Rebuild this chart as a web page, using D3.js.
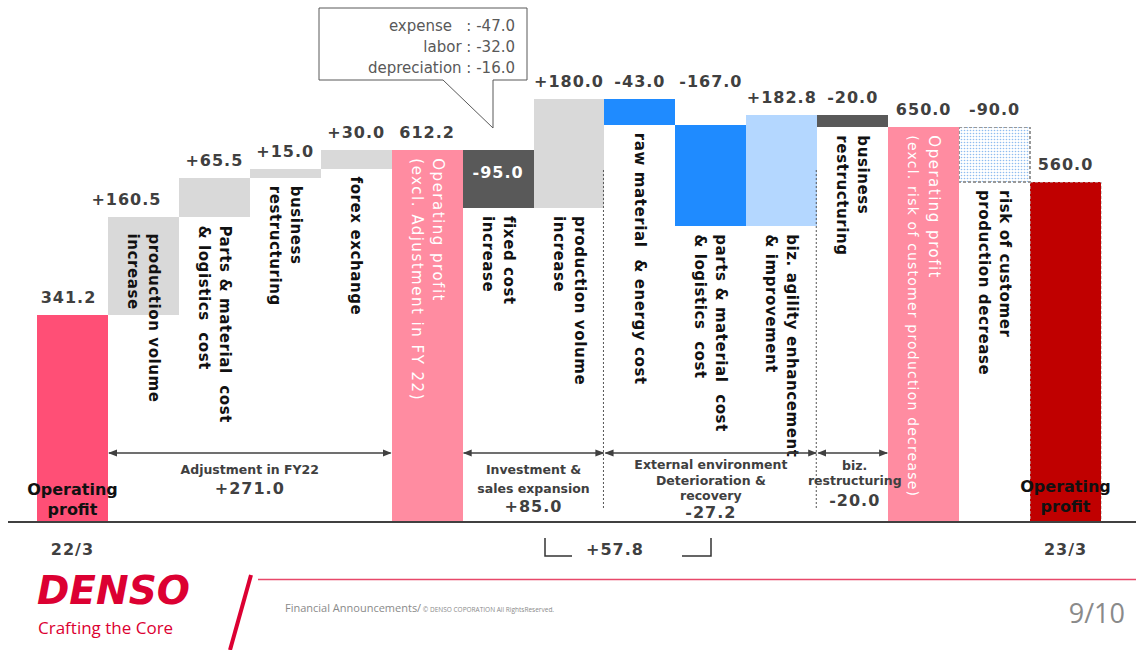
<!DOCTYPE html>
<html>
<head>
<meta charset="utf-8">
<script src="https://cdn.jsdelivr.net/npm/d3@7"></script>
<style>
  body { margin: 0; background: #fff; }
  svg { display: block; font-family: "DejaVu Sans", Verdana, sans-serif; }
  .pre { white-space: pre; }
</style>
</head>
<body>
<div id="graph"></div>
<script>
// values (bn yen)
var values = [341.2, 160.5, 65.5, 15.0, 30.0, 612.2, -95.0, 180.0, -43.0, -167.0, 182.8, -20.0, 650.0, -90.0, 560.0];
var kinds = ["open", "gain", "gain", "gain", "gain", "subtotal", "fixed", "gain", "external", "external", "agility", "fixed", "subtotal", "risk", "close"];
var valueLabels = ["341.2", "+160.5", "+65.5", "+15.0", "+30.0", "612.2", "-95.0", "+180.0", "-43.0", "-167.0", "+182.8", "-20.0", "650.0", "-90.0", "560.0"];
var barLabels = [
  [],
  ["production volume", "increase"],
  ["Parts & material  cost", "& logistics  cost"],
  ["business", "restructuring"],
  ["forex exchange"],
  ["Operating profit", "(excl. Adjustment in FY 22)"],
  ["fixed cost", "increase"],
  ["production volume", "increase"],
  ["raw material  & energy cost"],
  ["parts & material  cost", "& logistics  cost"],
  ["biz. agility enhancement", "& improvement"],
  ["business", "restructuring"],
  ["Operating profit", "(excl. risk of customer production decrease)"],
  ["risk of customer", "production decrease"],
  []
];
var periods = ["22/3", "23/3"];

// groups under the bars
var groupNames = [["Adjustment in FY22"], ["Investment &", "sales expansion"], ["External environment", "Deterioration &", "recovery"], ["biz.", "restructuring"]];
var groupTotals = ["+271.0", "+85.0", "-27.2", "-20.0"];
var groupFrom = [1, 6, 8, 11];
var groupTo = [4, 7, 10, 11];
var combinedTotal = "+57.8";

var breakdownNames = ["expense   ", "labor ", "depreciation "];
var breakdownValues = ["-47.0", "-32.0", "-16.0"];

var colors = {
  open: "#ff4f76", gain: "#d9d9d9", subtotal: "#ff8ca1", fixed: "#595959",
  external: "#1f8bff", agility: "#b4d7ff", risk: "url(#dots)", close: "#c00000"
};

var width = 1136, height = 650;
var base = 522;

var svg = d3.select("#graph").append("svg")
  .attr("width", width).attr("height", height);

var defs = svg.append("defs");
var pat = defs.append("pattern").attr("id", "dots")
  .attr("width", 3).attr("height", 3).attr("patternUnits", "userSpaceOnUse");
pat.append("rect").attr("width", 3).attr("height", 3).attr("fill", "#fff");
pat.append("circle").attr("cx", 1.5).attr("cy", 1.5).attr("r", 0.8).attr("fill", "#8fbcf0");

defs.append("marker").attr("id", "arr")
  .attr("viewBox", "0 0 10 10").attr("refX", 9).attr("refY", 5)
  .attr("markerWidth", 9).attr("markerHeight", 9).attr("orient", "auto-start-reverse")
  .attr("markerUnits", "userSpaceOnUse")
  .append("path").attr("d", "M0,1 L10,5 L0,9 Z").attr("fill", "#404040");

var x = d3.scaleBand().domain(d3.range(values.length)).range([37, 1101]).padding(0);
var y = d3.scaleLinear().domain([0, 700]).range([base, 97]);
var bw = x.bandwidth();

// running totals
var run = 0;
var bars = values.map(function(v, i) {
  var k = kinds[i], lo, hi;
  if (k == "open" || k == "subtotal" || k == "close") {
    lo = 0; hi = v; run = v;
  } else {
    lo = Math.min(run, run + v); hi = Math.max(run, run + v); run = run + v;
  }
  return { i: i, kind: k, lo: lo, hi: hi };
});

// bars
svg.selectAll(".bar").data(bars).enter().append("rect")
  .attr("class", "bar")
  .attr("x", function(d) { return x(d.i); })
  .attr("width", bw)
  .attr("y", function(d) { return y(d.hi); })
  .attr("height", function(d) { return y(d.lo) - y(d.hi); })
  .attr("fill", function(d) { return colors[d.kind]; })
  .attr("stroke", function(d) { return d.kind == "risk" ? "#999" : (d.kind == "close" ? "#b0b0b0" : "none"); })
  .attr("stroke-dasharray", "3,2")
  .attr("stroke-width", function(d) { return d.kind == "risk" ? 1.2 : 0.6; })
  .attr("shape-rendering", "crispEdges");

// value labels
function labelY(d) {
  if (d.i == 8 || d.i == 9) return y(bars[7].hi) - 12;
  if (d.i == 6) return y(d.hi) + 28;
  return y(d.hi) - 12;
}
svg.selectAll(".val").data(bars).enter().append("text")
  .attr("class", "val")
  .attr("x", function(d) { return x(d.i) + bw / 2 + (d.i == 1 ? -17 : d.i == 0 ? -4 : 0); })
  .attr("y", labelY)
  .attr("text-anchor", "middle")
  .attr("font-size", 16).attr("font-weight", "bold").attr("letter-spacing", 1)
  .attr("fill", function(d) { return d.i == 6 ? "#fff" : "#404040"; })
  .text(function(d) { return valueLabels[d.i]; });

// vertical labels
bars.forEach(function(d) {
  var lines = barLabels[d.i];
  if (!lines.length) return;
  var cx = x(d.i) + bw / 2;
  var startY;
  if (d.kind == "subtotal") startY = y(d.hi) + 8;
  else if (d.i == 1) startY = y(d.hi) + 16;
  else startY = y(d.lo) + 8;
  var white = d.kind == "subtotal";
  lines.forEach(function(line, j) {
    var off = lines.length == 1 ? 0 : (j == 0 ? 10.5 : -10.5);
    var long = line.length > 30;
    svg.append("text")
      .attr("class", "pre")
      .attr("transform", "translate(" + (cx + off) + "," + startY + ") rotate(90)")
      .attr("dominant-baseline", "central")
      .attr("font-size", white ? (long ? 14 : 15) : 15)
      .attr("font-weight", white ? "normal" : "bold")
      .attr("letter-spacing", white ? (long ? 1.2 : 1.5) : 0.6)
      .attr("fill", white ? "#fff" : "#111")
      .text(line);
  });
});

// baseline
svg.append("line").attr("x1", 8).attr("x2", width).attr("y1", base).attr("y2", base)
  .attr("stroke", "#404040").attr("stroke-width", 2);

// dotted dividers
[groupFrom[2], groupFrom[3]].forEach(function(i) {
  svg.append("line").attr("x1", x(i) - 1).attr("x2", x(i) - 1).attr("y1", 170).attr("y2", 508)
    .attr("stroke", "#555").attr("stroke-width", 1).attr("stroke-dasharray", "2,2");
});

// group arrows and labels
var groupTop = [474, 474, 469, 470];
var groupGap = [20, 19, 15.5, 15];
var totalDrop = [0, 0, 2, 6];
groupNames.forEach(function(names, g) {
  var x0 = x(groupFrom[g]) + 1, x1 = x(groupTo[g]) + bw - 1;
  svg.append("line").attr("x1", x0).attr("x2", x1).attr("y1", 453).attr("y2", 453)
    .attr("stroke", "#404040").attr("stroke-width", 1.5)
    .attr("marker-start", "url(#arr)").attr("marker-end", "url(#arr)");
  var cx = (x0 + x1) / 2 + (g == 3 ? 2 : 0);
  names.forEach(function(n, j) {
    svg.append("text").attr("x", cx).attr("y", groupTop[g] + j * groupGap[g])
      .attr("text-anchor", "middle").attr("font-size", 12.5).attr("font-weight", "bold")
      .attr("fill", "#404040").text(n);
  });
  svg.append("text").attr("x", cx).attr("y", groupTop[g] + names.length * groupGap[g] + totalDrop[g])
    .attr("text-anchor", "middle").attr("font-size", 16).attr("font-weight", "bold")
    .attr("letter-spacing", 1).attr("fill", "#404040").text(groupTotals[g]);
});

// Operating profit labels at both ends
[0, values.length - 1].forEach(function(i, k) {
  var cx = x(i) + bw / 2;
  ["Operating", "profit"].forEach(function(t, j) {
    svg.append("text").attr("x", cx).attr("y", 495 + j * 20 - (k ? 3 : 0))
      .attr("text-anchor", "middle").attr("font-size", 16).attr("font-weight", "bold")
      .attr("fill", "#111").text(t);
  });
  svg.append("text").attr("x", cx).attr("y", 555)
    .attr("text-anchor", "middle").attr("font-size", 16).attr("font-weight", "bold")
    .attr("letter-spacing", 1).attr("fill", "#404040").text(periods[k]);
});

// combined bracket
svg.append("path").attr("d", "M545,538 V556 H572 M682,556 H711 V538")
  .attr("fill", "none").attr("stroke", "#333").attr("stroke-width", 1.5);
svg.append("text").attr("x", 615).attr("y", 555).attr("text-anchor", "middle")
  .attr("font-size", 16).attr("font-weight", "bold").attr("letter-spacing", 1)
  .attr("fill", "#404040").text(combinedTotal);

// callout for fixed cost breakdown
svg.append("path").attr("d", "M319,8 H527 V80 H493 V128 L443,80 H319 Z")
  .attr("fill", "#fff").attr("stroke", "#595959").attr("stroke-width", 1);
breakdownNames.forEach(function(n, j) {
  svg.append("text").attr("class", "pre").attr("x", 515).attr("y", 31 + j * 21)
    .attr("text-anchor", "end").attr("font-size", 15).attr("fill", "#595959")
    .text(n + ": " + breakdownValues[j]);
});

// footer
var red = "#dc0032";
svg.append("text").attr("x", 37).attr("y", 604)
  .attr("font-family", "'DejaVu Sans', sans-serif").attr("font-size", 39).attr("font-weight", "bold")
  .attr("font-style", "italic").attr("fill", red).text("DENSO");
svg.append("text").attr("x", 38).attr("y", 634)
  .attr("font-family", "'Open Sans', sans-serif").attr("font-size", 17)
  .attr("fill", red).text("Crafting the Core");
svg.append("line").attr("x1", 251).attr("y1", 575).attr("x2", 230).attr("y2", 650)
  .attr("stroke", red).attr("stroke-width", 4);
svg.append("line").attr("x1", 258).attr("x2", width).attr("y1", 579.5).attr("y2", 579.5)
  .attr("stroke", "#e8486a").attr("stroke-width", 1.5);
var ft = svg.append("text").attr("x", 285).attr("y", 612)
  .attr("font-family", "'Open Sans', sans-serif").attr("fill", "#8a8a8a");
ft.append("tspan").attr("font-size", 11).text("Financial Announcements/");
ft.append("tspan").attr("font-size", 6.5).text(" © DENSO COPORATION All RightsReserved.");
svg.append("text").attr("x", 1125).attr("y", 623).attr("text-anchor", "end")
  .attr("font-family", "'Open Sans', sans-serif").attr("font-size", 27)
  .attr("fill", "#8a8a8a").text("9/10");
</script>
</body>
</html>
